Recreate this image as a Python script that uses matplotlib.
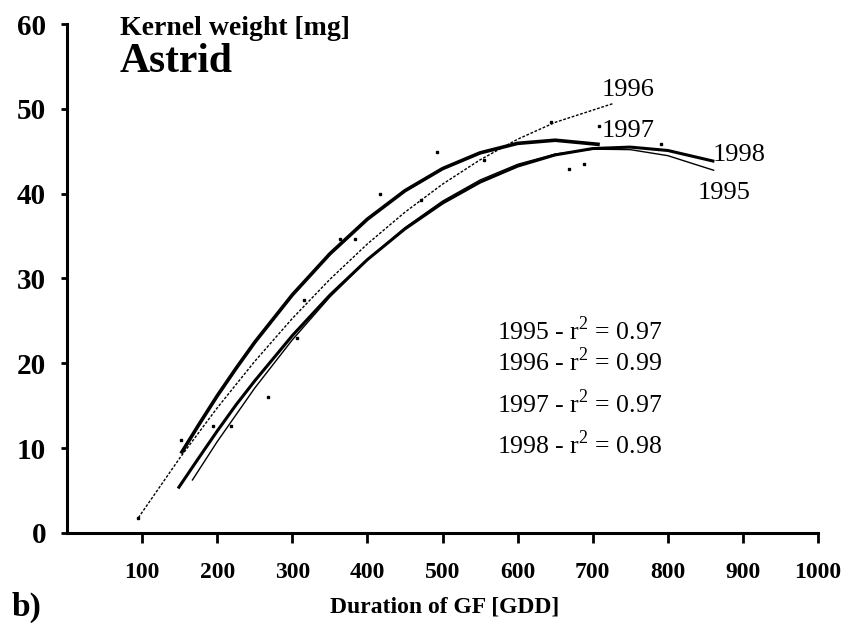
import matplotlib
matplotlib.use("Agg")
import matplotlib.pyplot as plt

plt.rcParams['font.family'] = ['Liberation Serif', 'DejaVu Serif']
plt.rcParams['mathtext.fontset'] = 'custom'
plt.rcParams['mathtext.rm'] = 'Liberation Serif'

# fitted curves (GDD, kernel weight mg)
x_1995 = [167, 200, 250, 300, 350, 400, 450, 500, 550, 600, 650, 700, 750, 800, 861]
y_1995 = [6.25, 10.77, 17.09, 22.77, 27.82, 32.22, 35.99, 39.12, 41.61, 43.46, 44.67, 45.25, 45.19, 44.48, 42.76]

x_1996 = [95, 150, 200, 250, 300, 350, 400, 450, 500, 550, 600, 650, 728]
y_1996 = [1.8, 8.82, 14.75, 20.24, 25.29, 29.90, 34.08, 37.82, 41.12, 43.99, 46.42, 48.41, 50.65]

x_1997 = [153, 175, 200, 225, 250, 300, 350, 400, 450, 500, 550, 600, 650, 707]
y_1997 = [9.55, 12.7, 16.17, 19.4, 22.49, 28.07, 32.91, 37.00, 40.35, 42.95, 44.81, 45.93, 46.30, 45.82]

x_1998 = [149, 175, 200, 225, 250, 300, 350, 400, 450, 500, 550, 600, 650, 700, 750, 800, 860]
y_1998 = [5.40, 8.8, 12.02, 15.1, 17.94, 23.27, 28.04, 32.23, 35.85, 38.89, 41.36, 43.25, 44.57, 45.32, 45.49, 45.09, 43.85]

# scattered measurements
pts_x = [95, 152, 195, 218, 267, 306, 315, 363, 384, 417, 471, 492, 555, 644, 668, 688, 708, 791]
pts_y = [1.8, 11.0, 12.6, 12.6, 16.0, 23.0, 27.5, 34.7, 34.7, 40.0, 39.3, 44.9, 44.0, 48.5, 42.9, 43.5, 48.0, 45.8]

years = ["1995", "1996", "1997", "1998"]
r2 = ["0.97", "0.99", "0.97", "0.98"]

fig = plt.figure(figsize=(8.41, 6.37), dpi=100)
ax = fig.add_axes([0.0797, 0.1633, 0.893, 0.799])

ax.plot(x_1995, y_1995, color='black', lw=1.0)
ax.plot(x_1996, y_1996, color='black', lw=1.0, linestyle=(0, (2, 1.2)))
ax.plot(x_1997, y_1997, color='black', lw=2.6)
ax.plot(x_1998, y_1998, color='black', lw=2.2)
ax.plot(pts_x, pts_y, 's', color='black', markersize=2)

ax.set_xlim(0, 1000)
ax.set_ylim(0, 60)
ax.set_xticks(range(100, 1001, 100))
ax.set_yticks(range(0, 61, 10))
ax.tick_params(axis='x', direction='out', length=7, width=2, pad=14, labelsize=17)
ax.tick_params(axis='y', direction='out', length=4, width=2, pad=11, labelsize=21)
for lab in ax.get_xticklabels() + ax.get_yticklabels():
    lab.set_fontweight('bold')

for s in ['top', 'right']:
    ax.spines[s].set_visible(False)
ax.spines['left'].set_linewidth(2.2)
ax.spines['bottom'].set_linewidth(2.2)

# end-of-curve labels
ax.text(712, 52.2, "1996", fontsize=19, va='center')
ax.text(712, 47.4, "1997", fontsize=19, va='center')
ax.text(860, 44.6, "1998", fontsize=19, va='center')
ax.text(840, 40.1, "1995", fontsize=19, va='center')

r2_y = [23.9, 20.2, 15.3, 10.4]
for yr, val, yy in zip(years, r2, r2_y):
    ax.text(573, yy, f"{yr} - r$^{{2}}$ = {val}", fontsize=18.5, va='center')

ax.text(70, 59.5, "Kernel weight [mg]", fontsize=20, fontweight='bold', va='center')
ax.text(70, 55.5, "Astrid", fontsize=30, fontweight='bold', va='center')

fig.text(445 / 841, 1 - 607 / 637, "Duration of GF [GDD]", fontsize=17, fontweight='bold',
         ha='center', va='center')
fig.text(12 / 841, 1 - 607 / 637, "b)", fontsize=24, fontweight='bold', va='center')

fig.savefig("out.png", dpi=100)
